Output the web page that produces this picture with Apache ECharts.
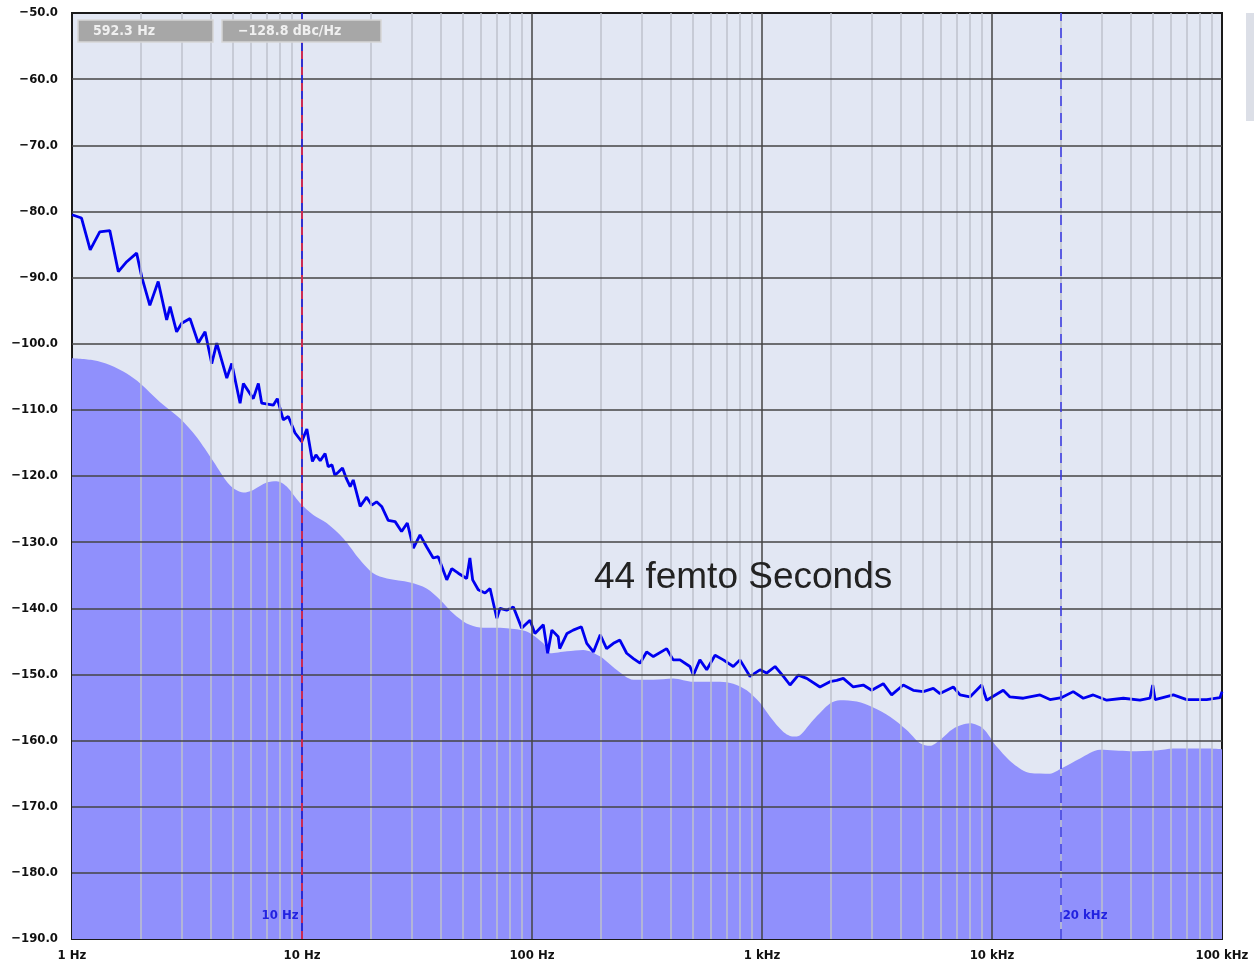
<!DOCTYPE html>
<html>
<head>
<meta charset="utf-8">
<script src="https://cdn.jsdelivr.net/npm/echarts@6/dist/echarts.min.js"></script>
<style>
  html, body { margin: 0; padding: 0; background: #fff; }
  #chart { width: 1260px; height: 964px; }
</style>
</head>
<body>
<div id="chart"></div>
<script>
// measured phase noise trace (Hz, dBc/Hz)
const traceFreq = [1.0, 1.10, 1.20, 1.32, 1.46, 1.59, 1.73, 1.91, 2.01, 2.18,
  2.37, 2.58, 2.67, 2.85, 3.0, 3.26, 3.54, 3.79, 4.05, 4.26,
  4.71, 4.95, 5.38, 5.56, 6.14, 6.46, 6.68, 7.50, 7.81, 8.29,
  8.72, 9.33, 9.97, 10.5, 11.1, 11.5, 12.0, 12.6, 13.0, 13.5,
  13.9, 14.4, 15.0, 15.6, 16.2, 16.7, 17.9, 19.1, 20.1, 21.1,
  22.2, 23.7, 25.4, 27.1, 28.7, 30.5, 32.6, 34.8, 37.2, 39.1,
  42.6, 44.8, 47.8, 52.0, 53.7, 55.2, 58.4, 62.5, 65.7, 70.3,
  72.6, 77.6, 83.0, 90.2, 98.0, 103, 112, 117, 122, 130,
  132, 142, 151, 164, 173, 185, 198, 211, 226, 241,
  258, 276, 295, 315, 337, 385, 411, 440, 486, 503,
  537, 575, 625, 679, 750, 802, 887, 980, 1047, 1140,
  1239, 1324, 1439, 1565, 1786, 1975, 2113, 2256, 2494, 2756,
  2999, 3367, 3661, 4113, 4547, 5026, 5556, 5940, 6788, 7262,
  8017, 9016, 9480, 11190, 11970, 13680, 16170, 17870, 20090, 22550,
  24940, 27560, 31550, 37240, 43990, 48620, 49970, 51170, 61440, 70270,
  85770, 98010, 100000]
const traceDb = [-80.5, -81.0, -85.8, -83.1, -82.9, -89.1, -87.6, -86.3, -89.9, -94.2,
  -90.6, -96.4, -94.4, -98.2, -96.9, -96.2, -99.9, -98.2, -103.0, -99.9,
  -105.2, -103.0, -109.0, -106.0, -108.3, -106.0, -109.0, -109.3, -108.3, -111.5,
  -111.0, -113.5, -114.8, -112.9, -117.8, -116.8, -117.7, -116.6, -118.6, -118.3,
  -119.9, -119.4, -118.8, -120.4, -121.6, -120.6, -124.6, -123.2, -124.4, -123.9,
  -124.6, -126.7, -126.9, -128.4, -127.1, -130.9, -128.9, -130.7, -132.4, -132.2,
  -135.7, -134.0, -134.7, -135.5, -132.4, -135.7, -137.2, -137.7, -137.0, -141.5,
  -140.0, -140.3, -139.8, -143.0, -141.8, -143.8, -142.5, -146.8, -143.3, -144.3,
  -146.1, -143.8, -143.3, -142.8, -145.3, -146.6, -144.0, -146.1, -145.3, -144.8,
  -146.8, -147.6, -148.3, -146.6, -147.3, -146.1, -147.8, -147.8, -148.8, -150.1,
  -147.8, -149.3, -147.1, -147.8, -148.8, -147.8, -150.3, -149.3, -149.8, -148.8,
  -150.3, -151.6, -150.1, -150.6, -151.9, -151.1, -150.9, -150.6, -151.9, -151.6,
  -152.4, -151.4, -153.1, -151.6, -152.4, -152.6, -152.1, -152.9, -151.9, -153.1,
  -153.4, -151.6, -153.9, -152.4, -153.4, -153.6, -153.1, -153.8, -153.5, -152.6,
  -153.6, -153.1, -153.9, -153.6, -153.9, -153.6, -151.6, -153.8, -153.1, -153.8,
  -153.8, -153.5, -152.6]

// reference / floor curve (filled)
const floorFreq = [1.0, 1.24, 1.46, 1.73, 1.98, 2.41, 2.95, 3.48, 4.12, 4.86,
  5.56, 6.14, 7.02, 7.76, 8.58, 9.8, 11.2, 12.8, 15.1, 17.9,
  20.4, 23.4, 29.5, 34.8, 39.8, 45.5, 52.0, 59.4, 77.6, 94.8,
  112, 120, 142, 167, 198, 233, 276, 337, 411, 503,
  657, 750, 858, 980, 1084, 1239, 1368, 1463, 1671, 1975,
  2183, 2582, 3048, 3603, 4257, 4866, 5375, 5940, 6788, 8017,
  9162, 10470, 12380, 14620, 17870, 20090, 24150, 29490, 39810, 51990,
  61440, 85770, 100000]
const floorDb = [-102.2, -102.5, -103.2, -104.5, -106.0, -108.8, -111.3, -114.1, -117.8, -121.4,
  -122.5, -122.1, -121.0, -120.8, -121.6, -124.1, -125.9, -127.1, -129.4, -132.7,
  -134.7, -135.5, -136.1, -137.0, -138.7, -140.8, -142.3, -142.9, -143.0, -143.5,
  -145.3, -146.8, -146.5, -146.3, -147.3, -149.3, -150.8, -150.8, -150.6, -151.1,
  -151.1, -151.4, -152.4, -154.3, -156.4, -158.7, -159.4, -159.2, -156.9, -154.4,
  -153.9, -154.1, -155.0, -156.4, -158.4, -160.4, -160.8, -159.9, -158.2, -157.4,
  -158.2, -160.9, -163.5, -164.9, -165.0, -164.2, -162.7, -161.4, -161.6, -161.5,
  -161.2, -161.2, -161.3]

// axes
const freqLabels = ['1 Hz', '10 Hz', '100 Hz', '1 kHz', '10 kHz', '100 kHz']
const decadeStarts = [1, 10, 100, 1000, 10000]
const minorSteps = [2, 3, 4, 5, 6, 7, 8, 9]
const dbGridLines = [-60, -70, -80, -90, -100, -110, -120, -130, -140, -150, -160, -170, -180]

// markers and readouts
const markerA = 10
const markerB = 20000
const markerALabel = '10 Hz'
const markerBLabel = '20 kHz'
const readoutFreq = '592.3 Hz'
const readoutLevel = '\u2212128.8 dBc/Hz'
const jitterNote = '44 femto Seconds'

const chartDom = document.getElementById('chart')
const myChart = echarts.init(chartDom)

const minorLines = []
decadeStarts.forEach(d => {
  minorSteps.forEach(m => {
    minorLines.push({ xAxis: d * m, lineStyle: { color: '#bec2cc', width: 1.5, type: 'solid' } })
  })
})
const majorLines = decadeStarts.slice(1).map(v => ({ xAxis: v, lineStyle: { color: '#444', width: 1.5, type: 'solid' } }))
  .concat(dbGridLines.map(v => ({ yAxis: v, lineStyle: { color: '#444', width: 1.5, type: 'solid' } })))

const tickFont = '"DejaVu Sans Condensed", "DejaVu Sans", sans-serif'
const labelFont = { fontFamily: tickFont, fontWeight: 'bold', fontSize: 13 }

const option = {
  animation: false,
  grid: {
    left: 72, right: 38, top: 13, bottom: 25,
    show: true,
    backgroundColor: '#e2e7f3',
    borderColor: '#1a1a1a',
    borderWidth: 2
  },
  xAxis: {
    type: 'log',
    logBase: 10,
    min: 1,
    max: 100000,
    axisLine: { show: false },
    axisTick: { show: false },
    splitLine: { show: false },
    axisLabel: {
      ...labelFont,
      color: '#111',
      margin: 10,
      formatter: v => freqLabels[Math.round(Math.log10(v))]
    }
  },
  yAxis: {
    type: 'value',
    min: -190,
    max: -50,
    interval: 10,
    axisLine: { show: false },
    axisTick: { show: false },
    splitLine: { show: false },
    axisLabel: {
      ...labelFont,
      color: '#111',
      margin: 14,
      formatter: v => (v < 0 ? '\u2212' : '') + Math.abs(v).toFixed(1)
    }
  },
  graphic: [
    { type: 'rect', shape: { x: 78, y: 20, width: 135, height: 22 },
      style: { fill: '#a7a7a7', stroke: '#d6d6d6', lineWidth: 1.5 }, z: 100 },
    { type: 'text', x: 93, y: 31, z: 101,
      style: { text: readoutFreq, fill: '#f0f0f0', font: 'bold 14px ' + tickFont, verticalAlign: 'middle' } },
    { type: 'rect', shape: { x: 222, y: 20, width: 159, height: 22 },
      style: { fill: '#a7a7a7', stroke: '#d6d6d6', lineWidth: 1.5 }, z: 100 },
    { type: 'text', x: 238, y: 31, z: 101,
      style: { text: readoutLevel, fill: '#f0f0f0', font: 'bold 14px ' + tickFont, verticalAlign: 'middle' } },
    { type: 'text', x: 594, y: 578, z: 101,
      style: { text: jitterNote, fill: '#222', font: '37px "Liberation Sans"', verticalAlign: 'middle' } },
    { type: 'rect', shape: { x: 1246, y: 13, width: 8, height: 108 },
      style: { fill: '#dcdfe7' }, z: 100 }
  ],
  series: [
    {
      name: 'floor',
      type: 'line',
      z: 1,
      symbol: 'none',
      smooth: 0.3,
      lineStyle: { width: 0 },
      areaStyle: { color: '#9090fc', opacity: 1, origin: 'start' },
      data: floorFreq.map((f, i) => [f, floorDb[i]])
    },
    {
      name: 'grid',
      type: 'line',
      z: 2,
      symbol: 'none',
      lineStyle: { width: 0 },
      data: [[1, -190]],
      markLine: {
        silent: true,
        symbol: 'none',
        label: { show: false },
        animation: false,
        data: minorLines.concat(majorLines)
      }
    },
    {
      name: 'markers',
      type: 'line',
      z: 3,
      symbol: 'none',
      lineStyle: { width: 0 },
      data: [[1, -190]],
      markLine: {
        silent: true,
        symbol: 'none',
        label: { show: false },
        animation: false,
        data: [
          { xAxis: markerA, lineStyle: { color: '#1c1cf0', width: 1.5, type: 'solid' } },
          { xAxis: markerA, lineStyle: { color: '#ff2a2a', width: 1.5, type: [8, 8] } },
          { xAxis: markerB, lineStyle: { color: '#3838e6', width: 1.5, type: [10, 7] } }
        ]
      },
      markPoint: {
        silent: true,
        symbol: 'circle',
        symbolSize: 1,
        itemStyle: { color: 'rgba(0,0,0,0)' },
        data: [
          { coord: [markerA, -186.5], label: { show: true, position: 'left', distance: 3, formatter: markerALabel, ...labelFont, color: '#2222e0' } },
          { coord: [markerB, -186.5], label: { show: true, position: 'right', distance: 1, formatter: markerBLabel, ...labelFont, color: '#2222e0' } }
        ]
      }
    },
    {
      name: 'trace',
      type: 'line',
      z: 4,
      symbol: 'none',
      lineStyle: { color: '#0000f0', width: 2.8 },
      data: traceFreq.map((f, i) => [f, traceDb[i]])
    }
  ]
}
option && myChart.setOption(option)
</script>
</body>
</html>
